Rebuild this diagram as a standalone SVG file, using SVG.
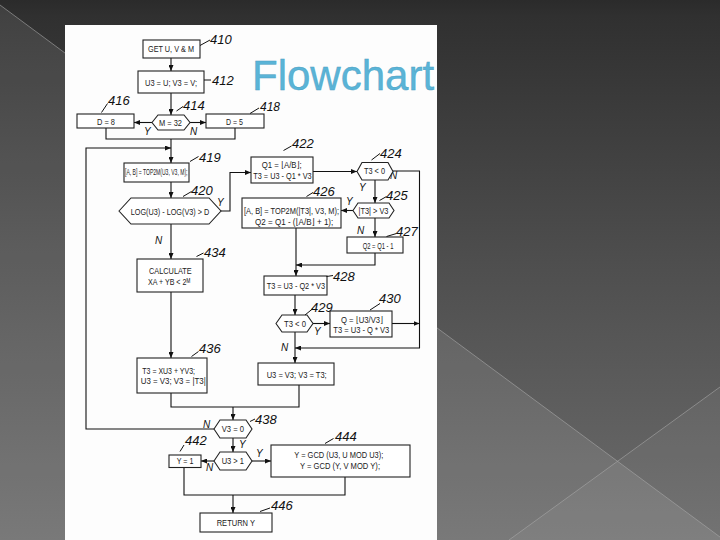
<svg xmlns="http://www.w3.org/2000/svg" width="720" height="540" viewBox="0 0 720 540">
<defs>
<linearGradient id="bg" x1="0" y1="0" x2="0" y2="1">
<stop offset="0" stop-color="#2b2b2b"/>
<stop offset="0.03" stop-color="#303030"/>
<stop offset="0.5" stop-color="#4f4f4f"/>
<stop offset="1" stop-color="#6c6c6c"/>
</linearGradient>
<marker id="ah" viewBox="0 0 6 5" refX="6" refY="2.5" markerWidth="6" markerHeight="5" orient="auto" markerUnits="userSpaceOnUse">
<path d="M0,0 L6,2.5 L0,5 z" fill="#111"/>
</marker>
<style>
.box{fill:#fff;stroke:#222;stroke-width:1.1}
.t{font-family:"Liberation Sans Narrow","Liberation Sans","DejaVu Sans",Arial,sans-serif;font-size:9px;fill:#222}
.hw{font-family:"Liberation Sans",Arial,sans-serif;font-style:italic;font-size:13px;fill:#111}
.yn{font-family:"Liberation Sans",Arial,sans-serif;font-style:italic;font-size:10px;fill:#111}
.ld{stroke:#111;stroke-width:1;fill:none}
.c{stroke:#111;stroke-width:1.1;fill:none}
.ca{stroke:#111;stroke-width:1.1;fill:none;marker-end:url(#ah)}
</style>
</defs>

<g id="background">
<rect x="0" y="0" width="720" height="540" fill="url(#bg)"/>
<polygon points="0,5 720,537 720,540 0,540" fill="#fff" opacity="0.09"/>
<polygon points="509,540 720,387 720,540" fill="#fff" opacity="0.05"/>
<line x1="0" y1="5" x2="720" y2="537" stroke="#a8a8a8" stroke-width="1" opacity="0.6"/>
<line x1="720" y1="387" x2="509" y2="540" stroke="#a8a8a8" stroke-width="1" opacity="0.6"/>
<rect x="65" y="25" width="372" height="515" fill="#fdfdfd"/>
</g>

<text id="title" x="252" y="90" font-family="'Liberation Sans',Arial,sans-serif" font-size="42" fill="#5AB4D7" stroke="#4a9fc2" stroke-width="0.4">Flowchart</text>

<g id="connectors">
<line class="ca" x1="171" y1="58" x2="171" y2="71"/>
<line class="ca" x1="171" y1="93" x2="171" y2="115"/>
<line class="ca" x1="152" y1="122.5" x2="134" y2="122.5"/>
<line class="ca" x1="190" y1="122.5" x2="206" y2="122.5"/>
<polyline class="c" points="106,128 106,139 235,139 235,128"/>
<line class="ca" x1="171" y1="139" x2="171" y2="163"/>
<polyline class="ca" points="214,429 86,429 86,148 171,148"/>
<line class="ca" x1="171" y1="182" x2="171" y2="198"/>
<polyline class="ca" points="221,211 230,211 230,172.5 251,172.5"/>
<line class="ca" x1="171" y1="224" x2="171" y2="259"/>
<line class="ca" x1="171" y1="292" x2="171" y2="358"/>
<polyline class="c" points="171,393 171,407 299,407 299,385"/>
<line class="ca" x1="233" y1="407" x2="233" y2="420"/>
<line class="ca" x1="313" y1="171.5" x2="357" y2="171.5"/>
<polyline class="ca" points="393,171 419.5,171 419.5,348 295,348"/>
<line class="ca" x1="375" y1="180" x2="375" y2="203"/>
<line class="ca" x1="353" y1="210.5" x2="341" y2="210.5"/>
<line class="ca" x1="375" y1="218" x2="375" y2="237"/>
<polyline class="ca" points="375,253 375,265 296,265"/>
<line class="ca" x1="296" y1="228" x2="296" y2="276"/>
<line class="ca" x1="295" y1="295" x2="295" y2="315"/>
<line class="ca" x1="313" y1="323.5" x2="330" y2="323.5"/>
<line class="ca" x1="392" y1="323.5" x2="419.5" y2="323.5"/>
<line class="ca" x1="295" y1="332" x2="295" y2="363"/>
<line class="ca" x1="233" y1="438" x2="233" y2="452"/>
<line class="ca" x1="252" y1="461" x2="271" y2="461"/>
<line class="ca" x1="214" y1="461" x2="201" y2="461"/>
<polyline class="c" points="184,467.5 184,495 345,495 345,477"/>
<line class="ca" x1="233" y1="495" x2="233" y2="513"/>
<text class="yn" x="144" y="135">Y</text>
<text class="yn" x="190" y="135">N</text>
<text class="yn" x="217" y="206">Y</text>
<text class="yn" x="155" y="244">N</text>
<text class="yn" x="390" y="179">N</text>
<text class="yn" x="359" y="191">Y</text>
<text class="yn" x="346" y="205">Y</text>
<text class="yn" x="357" y="234">N</text>
<text class="yn" x="314" y="335">Y</text>
<text class="yn" x="281" y="351">N</text>
<text class="yn" x="203" y="428">N</text>
<text class="yn" x="239" y="448">Y</text>
<text class="yn" x="256" y="457">Y</text>
<text class="yn" x="206" y="471">N</text>
</g>

<g id="n410">
<rect class="box" x="143" y="40" width="57" height="18"/>
<text class="t" x="148" y="52.3" textLength="46" lengthAdjust="spacingAndGlyphs">GET U, V &amp; M</text>
<line class="ld" x1="200" y1="45.5" x2="210" y2="40"/>
<text class="hw" x="210" y="44">410</text>
</g>
<g id="n412">
<rect class="box" x="138" y="71" width="66" height="22"/>
<text class="t" x="145" y="85.5" textLength="52" lengthAdjust="spacingAndGlyphs">U3 = U; V3 = V;</text>
<line class="ld" x1="204" y1="80" x2="211" y2="80"/>
<text class="hw" x="212" y="85">412</text>
</g>
<g id="n414">
<polygon class="box" points="152,122.5 158,115 184,115 190,122.5 184,130 158,130"/>
<text class="t" x="159" y="125.5" textLength="23" lengthAdjust="spacingAndGlyphs">M = 32</text>
<line class="ld" x1="176.5" y1="111" x2="183" y2="106.5"/>
<text class="hw" x="183" y="110">414</text>
</g>
<g id="n416">
<rect class="box" x="77" y="114" width="57" height="14"/>
<text class="t" x="97" y="125" textLength="18" lengthAdjust="spacingAndGlyphs">D = 8</text>
<line class="ld" x1="101.5" y1="112.5" x2="107.5" y2="103.5"/>
<text class="hw" x="108" y="105">416</text>
</g>
<g id="n418">
<rect class="box" x="206" y="114" width="58" height="14"/>
<text class="t" x="226" y="125" textLength="17" lengthAdjust="spacingAndGlyphs">D = 5</text>
<line class="ld" x1="250" y1="113.5" x2="259" y2="108"/>
<text class="hw" x="260" y="111" style="font-size:12px">418</text>
</g>
<g id="n419">
<rect class="box" x="124" y="163" width="65" height="19"/>
<text class="t" x="125" y="175" textLength="62.5" lengthAdjust="spacingAndGlyphs">[A, B] = TOP2M(U3, V3, M);</text>
<line class="ld" x1="190" y1="161.5" x2="198.5" y2="156.5"/>
<text class="hw" x="199" y="162">419</text>
</g>
<g id="n420">
<polygon class="box" points="119,211 131,198 209,198 221,211 209,224 131,224"/>
<text class="t" x="130.7" y="214.5" textLength="78.6" lengthAdjust="spacingAndGlyphs">LOG(U3) - LOG(V3) &gt; D</text>
<line class="ld" x1="183" y1="196.5" x2="191.5" y2="191.5"/>
<text class="hw" x="191" y="195">420</text>
</g>
<g id="n434">
<rect class="box" x="137" y="259" width="66" height="33"/>
<text class="t" x="149" y="273.5" textLength="42.7" lengthAdjust="spacingAndGlyphs">CALCULATE</text>
<text class="t" x="148" y="285.3" textLength="42" lengthAdjust="spacingAndGlyphs">XA + YB &lt; 2ᴹ</text>
<line class="ld" x1="196.5" y1="256.5" x2="203.5" y2="253"/>
<text class="hw" x="204" y="257">434</text>
</g>
<g id="n436">
<rect class="box" x="137" y="358" width="70" height="35"/>
<text class="t" x="142.3" y="374" textLength="52.7" lengthAdjust="spacingAndGlyphs">T3 = XU3 + YV3;</text>
<text class="t" x="140.7" y="384.3" textLength="65" lengthAdjust="spacingAndGlyphs">U3 = V3; V3 = |T3|</text>
<line class="ld" x1="191.5" y1="356.5" x2="198.5" y2="351.5"/>
<text class="hw" x="199" y="353">436</text>
</g>
<g id="n422">
<rect class="box" x="251" y="157" width="62" height="26"/>
<text class="t" x="261.7" y="168.3" textLength="40" lengthAdjust="spacingAndGlyphs">Q1 = ⌊A/B⌋;</text>
<text class="t" x="253.3" y="178.5" textLength="58.3" lengthAdjust="spacingAndGlyphs">T3 = U3 - Q1 * V3</text>
<line class="ld" x1="283.5" y1="150.5" x2="291.5" y2="146"/>
<text class="hw" x="292" y="148">422</text>
</g>
<g id="n424">
<polygon class="box" points="357,171.5 362,162.5 388,162.5 393,171.5 388,180 362,180"/>
<text class="t" x="364" y="174.3" textLength="21" lengthAdjust="spacingAndGlyphs">T3 &lt; 0</text>
<line class="ld" x1="371.5" y1="160" x2="380" y2="153.5"/>
<text class="hw" x="380" y="158">424</text>
</g>
<g id="n425">
<polygon class="box" points="353,210.5 358,203 389,203 394,210.5 389,218 358,218"/>
<text class="t" x="358.5" y="213.5" textLength="30" lengthAdjust="spacingAndGlyphs">|T3| &gt; V3</text>
<line class="ld" x1="379.5" y1="200.5" x2="386.5" y2="196.5"/>
<text class="hw" x="386" y="200">425</text>
</g>
<g id="n426">
<rect class="box" x="242" y="198" width="99" height="30"/>
<text class="t" x="244" y="214.3" textLength="95" lengthAdjust="spacingAndGlyphs">[A, B] = TOP2M(|T3|, V3, M);</text>
<text class="t" x="255" y="224.5" textLength="78.3" lengthAdjust="spacingAndGlyphs">Q2 = Q1 -  (⌊A/B⌋ + 1);</text>
<line class="ld" x1="306.5" y1="196.5" x2="313" y2="192.5"/>
<text class="hw" x="313" y="196">426</text>
</g>
<g id="n427">
<rect class="box" x="347" y="237" width="56" height="16"/>
<text class="t" x="362.7" y="248.7" textLength="30.7" lengthAdjust="spacingAndGlyphs">Q2 = Q1 - 1</text>
<line class="ld" x1="386.5" y1="236.5" x2="396.5" y2="233.5"/>
<text class="hw" x="396" y="236">427</text>
</g>
<g id="n428">
<rect class="box" x="264" y="276" width="63" height="19"/>
<text class="t" x="266.7" y="289" textLength="58.3" lengthAdjust="spacingAndGlyphs">T3 = U3 - Q2 * V3</text>
<line class="ld" x1="326.5" y1="276.5" x2="333" y2="275.5"/>
<text class="hw" x="333" y="281">428</text>
</g>
<g id="n429">
<polygon class="box" points="276,323.5 282,315 307,315 313,323.5 307,332 282,332"/>
<text class="t" x="284" y="326.5" textLength="22" lengthAdjust="spacingAndGlyphs">T3 &lt; 0</text>
<line class="ld" x1="305" y1="315" x2="313" y2="308.5"/>
<text class="hw" x="311" y="312">429</text>
</g>
<g id="n430">
<rect class="box" x="330" y="311" width="62" height="26"/>
<text class="t" x="341" y="322.5" textLength="42" lengthAdjust="spacingAndGlyphs">Q = ⌊U3/V3⌋</text>
<text class="t" x="333.3" y="332.5" textLength="56" lengthAdjust="spacingAndGlyphs">T3 = U3 - Q * V3</text>
<line class="ld" x1="370" y1="310" x2="380" y2="303.5"/>
<text class="hw" x="379" y="303">430</text>
</g>
<g id="n432">
<rect class="box" x="258" y="363" width="76" height="22"/>
<text class="t" x="266.7" y="377.5" textLength="60" lengthAdjust="spacingAndGlyphs">U3 = V3; V3 = T3;</text>
</g>
<g id="n438">
<polygon class="box" points="214,429 220,420 246,420 252,429 246,438 220,438"/>
<text class="t" x="221.7" y="432.3" textLength="22.3" lengthAdjust="spacingAndGlyphs">V3 = 0</text>
<line class="ld" x1="250" y1="421.5" x2="255" y2="419"/>
<text class="hw" x="255" y="424">438</text>
</g>
<g id="n440">
<polygon class="box" points="214,461 220,452 246,452 252,461 246,470 220,470"/>
<text class="t" x="221.7" y="464.3" textLength="22.3" lengthAdjust="spacingAndGlyphs">U3 &gt; 1</text>
</g>
<g id="n442">
<rect class="box" x="169" y="455" width="32" height="12.5"/>
<text class="t" x="176.7" y="464.3" textLength="16.7" lengthAdjust="spacingAndGlyphs">Y = 1</text>
<line class="ld" x1="180" y1="451.5" x2="184" y2="445"/>
<text class="hw" x="185" y="445">442</text>
</g>
<g id="n444">
<rect class="box" x="271" y="445" width="139" height="32"/>
<text class="t" x="294.3" y="458.3" textLength="89" lengthAdjust="spacingAndGlyphs">Y = GCD (U3, U MOD U3);</text>
<text class="t" x="300" y="468.5" textLength="80" lengthAdjust="spacingAndGlyphs">Y = GCD (Y, V MOD Y);</text>
<line class="ld" x1="325" y1="443.5" x2="333.5" y2="438.5"/>
<text class="hw" x="335" y="441">444</text>
</g>
<g id="n446">
<rect class="box" x="200" y="513" width="72" height="19"/>
<text class="t" x="216.7" y="526" textLength="38.3" lengthAdjust="spacingAndGlyphs">RETURN Y</text>
<line class="ld" x1="260" y1="511.5" x2="270" y2="508"/>
<text class="hw" x="271" y="510">446</text>
</g>
</svg>
